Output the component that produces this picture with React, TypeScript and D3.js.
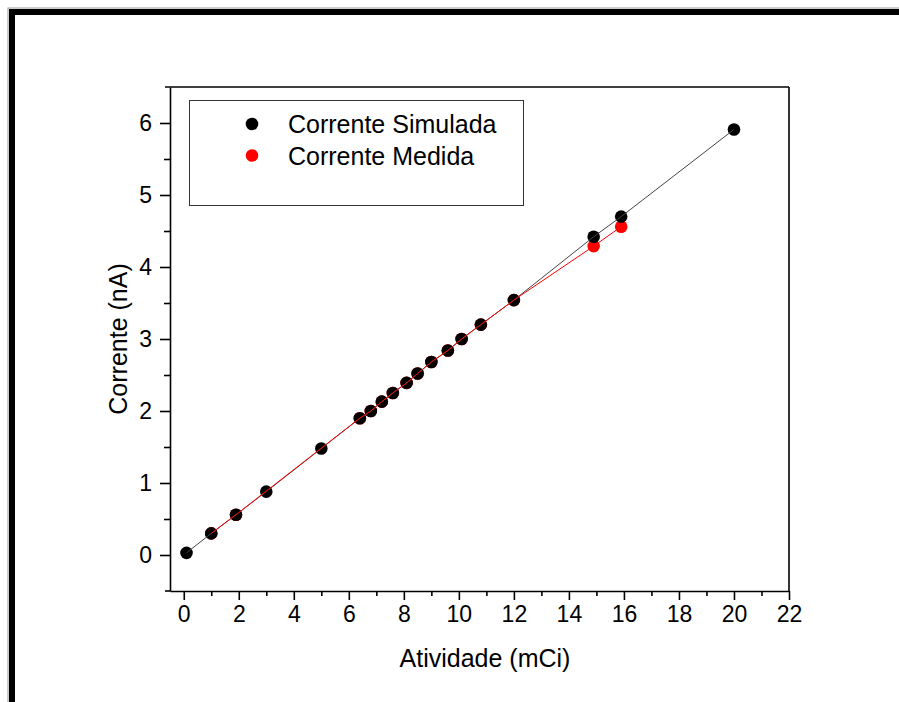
import React, { useEffect, useRef } from 'react'
import { select, scaleLinear, axisBottom, axisLeft, line, format } from 'd3'

// activity (mCi) and current (nA)
const atividade = [0.1, 1.0, 1.9, 3.0, 5.0, 6.4, 6.8, 7.2, 7.6, 8.1, 8.5, 9.0, 9.6, 10.1, 10.8, 12.0, 14.9, 15.9, 20.0]
const correnteSimulada = [0.03, 0.3, 0.56, 0.88, 1.48, 1.9, 2.0, 2.13, 2.25, 2.39, 2.52, 2.68, 2.84, 3.0, 3.2, 3.54, 4.42, 4.7, 5.91]
const atividadeMedida = [1.0, 1.9, 6.4, 6.8, 7.2, 7.6, 8.1, 8.5, 9.0, 9.6, 10.1, 10.8, 12.0, 14.9, 15.9]
const correnteMedida = [0.3, 0.56, 1.9, 2.0, 2.13, 2.25, 2.39, 2.52, 2.68, 2.84, 3.0, 3.2, 3.54, 4.29, 4.56]

const xTicks = [0, 2, 4, 6, 8, 10, 12, 14, 16, 18, 20, 22]
const xMinor = [1, 3, 5, 7, 9, 11, 13, 15, 17, 19, 21]
const yTicks = [0, 1, 2, 3, 4, 5, 6]
const yMinor = [0.5, 1.5, 2.5, 3.5, 4.5, 5.5]
const legendLabels = ['Corrente Simulada', 'Corrente Medida']
const legendColors = ['#000', '#f00']

const font = '"Liberation Sans", Arial, sans-serif'

export default function App() {
  const svgRef = useRef<SVGSVGElement>(null)

  const xScale = scaleLinear().domain([-0.5, 22]).range([170, 789])
  const yScale = scaleLinear().domain([-0.5, 6.5]).range([591, 87])

  useEffect(() => {
    const svg = select(svgRef.current)

    const xAxis = axisBottom(xScale).tickValues(xTicks).tickSize(9).tickPadding(6)
      .tickSizeOuter(0).tickFormat(format('d'))
    svg.select<SVGGElement>('.x-axis')
      .attr('transform', `translate(0, ${yScale(-0.5)})`)
      .call(xAxis)
    const xAxisMinor = axisBottom(xScale).tickValues(xMinor).tickSize(5).tickFormat(() => '').tickSizeOuter(0)
    svg.select<SVGGElement>('.x-minor')
      .attr('transform', `translate(0, ${yScale(-0.5)})`)
      .call(xAxisMinor)
      .select('.domain').remove()

    const yAxis = axisLeft(yScale).tickValues(yTicks).tickSize(10).tickPadding(8)
      .tickSizeOuter(0).tickFormat(format('d'))
    svg.select<SVGGElement>('.y-axis')
      .attr('transform', `translate(${xScale(-0.5)}, 0)`)
      .call(yAxis)
    const yAxisMinor = axisLeft(yScale).tickValues(yMinor).tickSize(6).tickFormat(() => '').tickSizeOuter(0)
    svg.select<SVGGElement>('.y-minor')
      .attr('transform', `translate(${xScale(-0.5)}, 0)`)
      .call(yAxisMinor)
      .select('.domain').remove()

    svg.selectAll('.x-axis, .y-axis, .x-minor, .y-minor')
      .selectAll('line, path')
      .attr('stroke', '#000')
      .attr('stroke-width', 1.6)
    svg.selectAll('.x-axis text, .y-axis text')
      .attr('font-family', font)
      .attr('font-size', 23)
      .attr('fill', '#000')
  }, [])

  const simLine = line<number>()
    .x((d, i) => xScale(atividade[i]))
    .y(d => yScale(d))
  const medLine = line<number>()
    .x((d, i) => xScale(atividadeMedida[i]))
    .y(d => yScale(d))

  const x0 = xScale(-0.5)
  const x1 = xScale(22)
  const yTop = yScale(6.5)
  const yBot = yScale(-0.5)

  return (
    <svg ref={svgRef} width={899} height={702}
      style={{ position: 'absolute', left: 0, top: 0, background: '#fff' }}>
      {/* outer frame, cut off at right and bottom */}
      <rect x={8} y={8} width={900} height={700} fill="none" stroke="#999" strokeWidth={1} />
      <rect x={9} y={9} width={900} height={6} fill="#000" />
      <rect x={9} y={9} width={6} height={700} fill="#000" />

      {/* plot box */}
      <line x1={x0 - 5} x2={x1} y1={yTop} y2={yTop} stroke="#000" strokeWidth={1.6} />
      <line x1={x1} x2={x1} y1={yTop} y2={yBot} stroke="#000" strokeWidth={1.6} />
      <line x1={x0 - 5} x2={x0} y1={yBot} y2={yBot} stroke="#000" strokeWidth={1.6} />
      <g className="x-minor" />
      <g className="y-minor" />
      <g className="x-axis" />
      <g className="y-axis" />

      {/* points and lines */}
      {correnteMedida.map((v, i) => (
        <circle key={'m' + i} cx={xScale(atividadeMedida[i])} cy={yScale(v)} r={6.3} fill="#f00" />
      ))}
      {correnteSimulada.map((v, i) => (
        <circle key={'s' + i} cx={xScale(atividade[i])} cy={yScale(v)} r={6.3} fill="#000" />
      ))}
      <path d={simLine(correnteSimulada) || ''} fill="none" stroke="#444" strokeWidth={1} />
      <path d={medLine(correnteMedida) || ''} fill="none" stroke="#f00" strokeWidth={1} />

      {/* legend */}
      <rect x={189.5} y={100.5} width={334} height={105} fill="#fff" stroke="#333" strokeWidth={1} />
      {legendLabels.map((lab, i) => (
        <g key={lab}>
          <circle cx={252} cy={124 + i * 31.5} r={6.3} fill={legendColors[i]} />
          <text x={288} y={133 + i * 31.5} fontFamily={font} fontSize={25} fill="#000">{lab}</text>
        </g>
      ))}

      {/* axis titles */}
      <text x={485} y={667} textAnchor="middle" fontFamily={font} fontSize={25} fill="#000">Atividade (mCi)</text>
      <text transform={`translate(127, ${(yTop + yBot) / 2}) rotate(-90)`} textAnchor="middle"
        fontFamily={font} fontSize={25} fill="#000">Corrente (nA)</text>
    </svg>
  )
}
